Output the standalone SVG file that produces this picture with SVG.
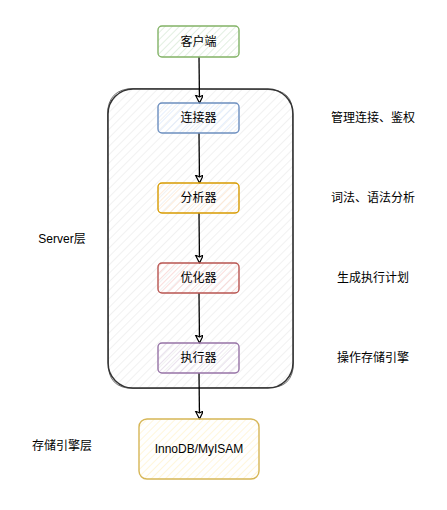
<svg xmlns="http://www.w3.org/2000/svg" width="447" height="510" viewBox="0 0 447 510">
<style>
text{font-family:"Liberation Sans","Noto Sans CJK SC",sans-serif;font-size:12px;fill:#000;text-anchor:middle;dominant-baseline:central}
.edge{fill:none;stroke:#000;stroke-width:1.3}
.box{stroke-width:1.4}
</style>
<defs>
<pattern id="hGray" patternUnits="userSpaceOnUse" width="6" height="6" patternTransform="rotate(45)"><line x1="0" y1="0" x2="0" y2="6" stroke="#e4e4e4" stroke-width="1"/></pattern>
<pattern id="hGreen" patternUnits="userSpaceOnUse" width="5" height="5" patternTransform="rotate(45)"><line x1="0" y1="0" x2="0" y2="5" stroke="#d5e8d4" stroke-width="1.4"/></pattern>
<pattern id="hBlue" patternUnits="userSpaceOnUse" width="5" height="5" patternTransform="rotate(45)"><line x1="0" y1="0" x2="0" y2="5" stroke="#dae8fc" stroke-width="1.4"/></pattern>
<pattern id="hOrange" patternUnits="userSpaceOnUse" width="5" height="5" patternTransform="rotate(45)"><line x1="0" y1="0" x2="0" y2="5" stroke="#ffe6cc" stroke-width="1.4"/></pattern>
<pattern id="hRed" patternUnits="userSpaceOnUse" width="5" height="5" patternTransform="rotate(45)"><line x1="0" y1="0" x2="0" y2="5" stroke="#f8cecc" stroke-width="1.4"/></pattern>
<pattern id="hPurple" patternUnits="userSpaceOnUse" width="5" height="5" patternTransform="rotate(45)"><line x1="0" y1="0" x2="0" y2="5" stroke="#e1d5e7" stroke-width="1.4"/></pattern>
<pattern id="hYellow" patternUnits="userSpaceOnUse" width="5" height="5" patternTransform="rotate(45)"><line x1="0" y1="0" x2="0" y2="5" stroke="#fff2cc" stroke-width="1.4"/></pattern>
<marker id="arr" markerWidth="10" markerHeight="10" refX="8" refY="4" orient="auto" markerUnits="userSpaceOnUse">
<path d="M0,0 L8,4 L0,8 L2,4 Z" fill="#fff" stroke="#000" stroke-width="1.2" stroke-linejoin="round"/>
</marker>
</defs>
<rect width="447" height="510" fill="#fff"/>

<g id="server">
<rect x="108" y="89" width="185" height="299" rx="25" ry="25" fill="url(#hGray)" stroke="#333" stroke-width="1.5"/>
<path d="M133,88.5 L268,89.5 Q293.5,90 292.5,114 L293.5,363 Q293,388.5 268,387.5 L133,388.5 Q107.5,388 108.5,363 L107.5,114 Q108,89 133,88.5" fill="none" stroke="#333" stroke-width="0.7"/>
</g>

<g id="edges">
<path class="edge" d="M199,57 L199.5,103" marker-end="url(#arr)"/>
<path class="edge" d="M199,133 L199.5,183" marker-end="url(#arr)"/>
<path class="edge" d="M199,213 L199.5,263" marker-end="url(#arr)"/>
<path class="edge" d="M199,293 L199.5,343" marker-end="url(#arr)"/>
<path class="edge" d="M199,373 L199.5,419" marker-end="url(#arr)"/>
</g>

<g id="client">
<rect class="box" x="158" y="26" width="81" height="31" rx="4" fill="url(#hGreen)" stroke="#82b366"/>
<text x="198.5" y="42">客户端</text>
</g>
<g id="connector">
<rect class="box" x="158" y="103" width="81" height="30" rx="4" fill="url(#hBlue)" stroke="#6c8ebf"/>
<text x="198.5" y="118">连接器</text>
</g>
<g id="analyzer">
<rect class="box" x="158" y="183" width="81" height="30" rx="4" fill="url(#hOrange)" stroke="#d79b00"/>
<text x="198.5" y="198">分析器</text>
</g>
<g id="optimizer">
<rect class="box" x="158" y="263" width="81" height="30" rx="4" fill="url(#hRed)" stroke="#b85450"/>
<text x="198.5" y="278">优化器</text>
</g>
<g id="executor">
<rect class="box" x="158" y="343" width="81" height="30" rx="4" fill="url(#hPurple)" stroke="#9673a6"/>
<text x="198.5" y="358">执行器</text>
</g>
<g id="engine">
<rect class="box" x="139" y="419" width="120" height="60" rx="8" fill="url(#hYellow)" stroke="#d6b656"/>
<text x="199" y="449">InnoDB/MyISAM</text>
</g>

<g id="labels">
<text x="373" y="118">管理连接、鉴权</text>
<text x="373" y="198">词法、语法分析</text>
<text x="373" y="278">生成执行计划</text>
<text x="373" y="358">操作存储引擎</text>
<text x="62" y="239">Server层</text>
<text x="62" y="446">存储引擎层</text>
</g>
</svg>
